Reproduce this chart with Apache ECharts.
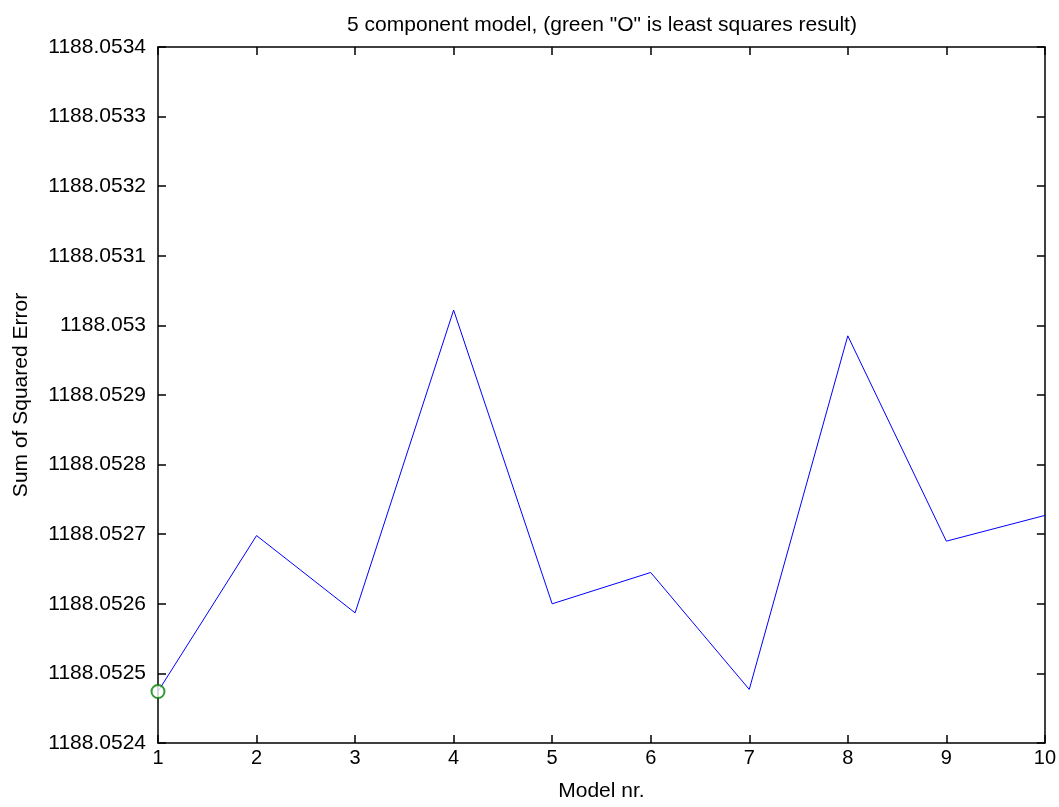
<!DOCTYPE html>
<html>
<head>
<meta charset="utf-8">
<script src="https://cdn.jsdelivr.net/npm/echarts@6/dist/echarts.min.js"></script>
<style>html,body{margin:0;padding:0;background:#fff}#c{width:1059px;height:807px}</style>
</head>
<body>
<div id="c"></div>
<script>
const models = [1, 2, 3, 4, 5, 6, 7, 8, 9, 10];
const sse = [1188.052474, 1188.052698, 1188.052587, 1188.053022, 1188.052600, 1188.052645, 1188.052477, 1188.052985, 1188.052690, 1188.052727];
const lsModel = [1];
const lsValue = [1188.052474];
const titleText = '5 component model, (green "O" is least squares result)';
const xName = 'Model nr.';
const yName = 'Sum of Squared Error';

const font = '"Liberation Sans", Arial, sans-serif';
const fmtY = v => parseFloat(v.toFixed(4)).toString();
const axisLine = {show: true, lineStyle: {color: '#000', width: 1.5}};
const tick = {show: true, inside: true, length: 8, lineStyle: {color: '#000', width: 1.5}};

const chart = echarts.init(document.getElementById('c'));
chart.setOption({
  backgroundColor: '#fff',
  animation: false,
  title: {text: titleText, left: 597, top: 10, textAlign: 'center',
    textStyle: {fontFamily: font, fontSize: 21, fontWeight: 'normal', color: '#000'}},
  grid: {left: 158, right: 13, top: 47, bottom: 55},
  xAxis: [
    {type: 'value', min: 1, max: 10, interval: 1, position: 'bottom',
     name: xName, nameLocation: 'middle', nameGap: 38,
     nameTextStyle: {fontFamily: font, fontSize: 21, color: '#000'},
     axisLine, axisTick: tick, splitLine: {show: false},
     axisLabel: {fontFamily: font, fontSize: 20, color: '#000', margin: 5}},
    {type: 'value', min: 1, max: 10, interval: 1, position: 'top',
     axisLine, axisTick: tick, splitLine: {show: false}, axisLabel: {show: false}}
  ],
  yAxis: [
    {type: 'value', min: 1188.0524, max: 1188.0534, interval: 0.0001, position: 'left',
     name: yName, nameLocation: 'middle', nameGap: 126, nameRotate: 90,
     nameTextStyle: {fontFamily: font, fontSize: 21, color: '#000'},
     axisLine, axisTick: tick, splitLine: {show: false},
     axisLabel: {fontFamily: font, fontSize: 21, color: '#000', margin: 12, formatter: fmtY}},
    {type: 'value', min: 1188.0524, max: 1188.0534, interval: 0.0001, position: 'right',
     axisLine, axisTick: tick, splitLine: {show: false}, axisLabel: {show: false}}
  ],
  series: [
    {type: 'line', data: models.map((m, i) => [m, sse[i]]), showSymbol: false, symbol: 'none',
     lineStyle: {color: '#0000ff', width: 1}, xAxisIndex: 0, yAxisIndex: 0, z: 3},
    {type: 'scatter', data: lsModel.map((m, i) => [m, lsValue[i]]), symbol: 'emptyCircle', symbolSize: 13,
     clip: false, itemStyle: {color: '#008000', borderWidth: 1.3}, xAxisIndex: 0, yAxisIndex: 0, z: 5}
  ]
});
</script>
</body>
</html>
